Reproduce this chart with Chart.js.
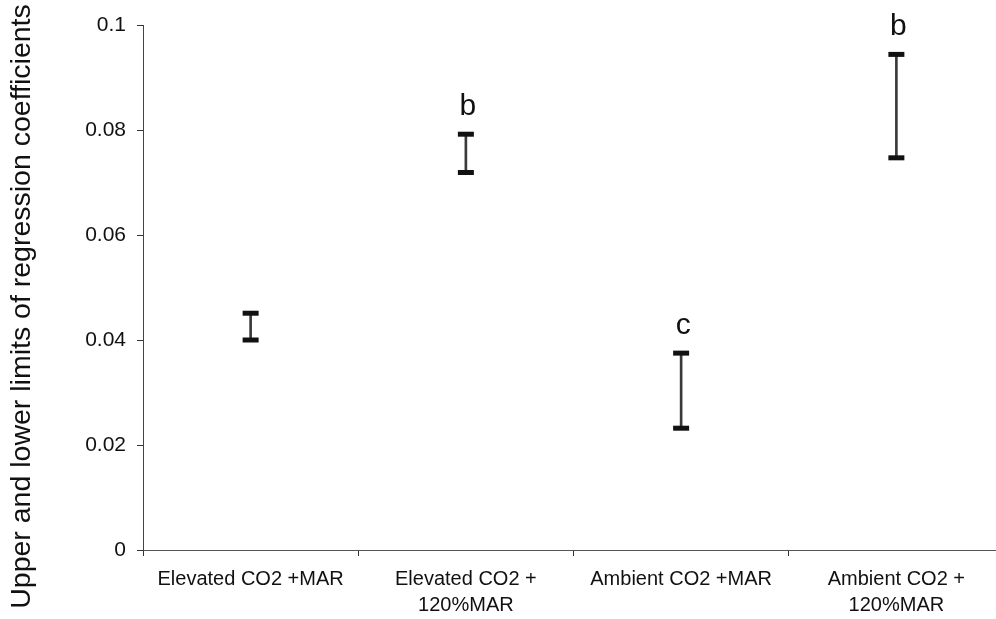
<!DOCTYPE html>
<html>
<head>
<meta charset="utf-8">
<script src="https://cdn.jsdelivr.net/npm/chart.js@4/dist/chart.umd.min.js"></script>
<style>
  html, body { margin: 0; padding: 0; background: #fff; overflow: hidden; }
  #wrap { width: 1004px; height: 619px; }
</style>
</head>
<body>
<div id="wrap"><canvas id="c" width="1004" height="619"></canvas></div>
<script>
// Treatment groups (multi-line labels are arrays)
const categories = [
  ["Elevated CO2 +MAR"],
  ["Elevated CO2 +", "120%MAR"],
  ["Ambient CO2 +MAR"],
  ["Ambient CO2 +", "120%MAR"]
];
// Lower and upper limits of the regression coefficient for each group
const lowerLimits = [0.0400, 0.0719, 0.0232, 0.0747];
const upperLimits = [0.0451, 0.0792, 0.0375, 0.0944];
// Significance letters written above each interval
const groupLetters = ["", "b", "c", "b"];
// Y axis tick values
const yTicks = [0, 0.02, 0.04, 0.06, 0.08, 0.1];

const FONT = '"Liberation Sans", Arial, Helvetica, sans-serif';
const TITLE_SIZE = 28.5;
const TITLE_PAD = 5;
const TITLE_WIDTH = TITLE_SIZE * 1.2 + TITLE_PAD * 2;

// Writes the group letters just above each upper limit
const letterPlugin = {
  id: 'groupLetters',
  afterDatasetsDraw(chart) {
    const { ctx, scales: { x, y } } = chart;
    ctx.save();
    ctx.font = '30px ' + FONT;
    ctx.fillStyle = '#111';
    ctx.textAlign = 'center';
    ctx.textBaseline = 'alphabetic';
    groupLetters.forEach((t, i) => {
      if (!t) return;
      ctx.fillText(t, x.getPixelForValue(i) + 2, y.getPixelForValue(upperLimits[i]) - 19);
    });
    ctx.restore();
  }
};

new Chart(document.getElementById('c'), {
  data: {
    labels: categories,
    datasets: [
      {
        type: 'bar',
        data: lowerLimits.map((lo, i) => [lo, upperLimits[i]]),
        backgroundColor: '#3a3a3a',
        borderWidth: 0,
        barThickness: 2,
        order: 2
      },
      {
        type: 'line',
        data: upperLimits,
        showLine: false,
        pointStyle: 'line',
        pointRadius: 8,
        pointBorderWidth: 5,
        pointBorderColor: '#111',
        order: 1
      },
      {
        type: 'line',
        data: lowerLimits,
        showLine: false,
        pointStyle: 'line',
        pointRadius: 8,
        pointBorderWidth: 5,
        pointBorderColor: '#111',
        order: 1
      }
    ]
  },
  options: {
    responsive: false,
    animation: false,
    layout: { autoPadding: false, padding: { left: 0, top: 0, right: 0, bottom: 6 } },
    plugins: {
      legend: { display: false },
      tooltip: { enabled: false },
      title: {
        display: true,
        position: 'left',
        text: 'Upper and lower limits of regression coefficients',
        color: '#111',
        font: { family: FONT, size: TITLE_SIZE, weight: 'normal', lineHeight: 1.2 },
        padding: { top: TITLE_PAD, bottom: TITLE_PAD }
      }
    },
    scales: {
      x: {
        type: 'category',
        offset: true,
        grid: { offset: true, drawOnChartArea: false, drawTicks: true, tickLength: 6, tickColor: '#333' },
        border: { color: '#555', width: 1 },
        ticks: {
          color: '#111',
          font: { family: FONT, size: 20, lineHeight: 1.3 },
          padding: 10,
          maxRotation: 0,
          autoSkip: false
        },
        afterFit(s) { s.height = 63; s.paddingLeft = 0; s.paddingRight = 0; }
      },
      y: {
        min: 0,
        max: 0.1,
        afterBuildTicks(s) { s.ticks = yTicks.map(v => ({ value: v })); },
        grid: { drawOnChartArea: false, drawTicks: true, tickLength: 6, tickColor: '#333' },
        border: { color: '#444', width: 1 },
        ticks: {
          color: '#111',
          font: { family: FONT, size: 21 },
          padding: 11,
          callback: v => String(v)
        },
        afterFit(s) { s.width = 143 - TITLE_WIDTH; s.paddingTop = 25; }
      }
    }
  },
  plugins: [letterPlugin]
});
</script>
</body>
</html>
